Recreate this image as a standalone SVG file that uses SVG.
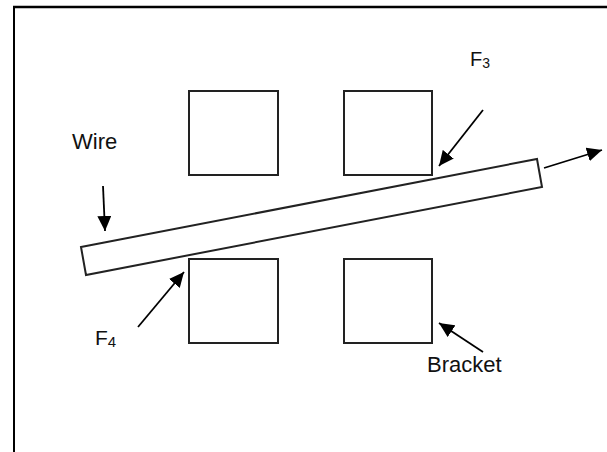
<svg xmlns="http://www.w3.org/2000/svg" width="607" height="452" viewBox="0 0 607 452">
<defs>
<marker id="ah" markerUnits="userSpaceOnUse" markerWidth="16" markerHeight="14" refX="15" refY="7" orient="auto">
<path d="M0,0 L15,7 L0,14 Z" fill="#000"/>
</marker>
<style>
.box{fill:#fff;stroke:#222;stroke-width:2}
.ln{fill:none;stroke:#000;stroke-width:1.8;marker-end:url(#ah)}
.t{font-family:"Liberation Sans",Arial,sans-serif;fill:#111}
</style>
</defs>
<rect x="0" y="0" width="607" height="452" fill="#fff"/>
<g id="frame">
<line x1="13" y1="7" x2="607" y2="7" stroke="#000" stroke-width="2.5"/>
<line x1="14" y1="6" x2="14" y2="452" stroke="#000" stroke-width="2"/>
</g>
<g id="bracket-tl"><rect class="box" x="189" y="91" width="89" height="84"/></g>
<g id="bracket-tr"><rect class="box" x="344" y="91" width="88" height="84"/></g>
<g id="bracket-bl"><rect class="box" x="189" y="259" width="89" height="84"/></g>
<g id="bracket-br"><rect class="box" x="344" y="259" width="88" height="84"/></g>
<g id="wire"><polygon class="box" points="81,247 537,159 542,187 86,275"/></g>
<g id="connectors">
<line class="ln" x1="103" y1="186" x2="105" y2="231"/>
<line class="ln" x1="483" y1="110" x2="439" y2="166"/>
<line class="ln" x1="544" y1="168" x2="602" y2="150"/>
<line class="ln" x1="138" y1="327" x2="184" y2="272"/>
<line class="ln" x1="483" y1="352" x2="439" y2="323"/>
</g>
<g id="labels">
<text class="t" x="72" y="149" font-size="22">Wire</text>
<text class="t" x="470" y="66" font-size="20">F<tspan font-size="14" dy="2">3</tspan></text>
<text class="t" x="95" y="345" font-size="21">F<tspan font-size="15" dy="2">4</tspan></text>
<text class="t" x="427" y="372" font-size="22">Bracket</text>
</g>
</svg>
